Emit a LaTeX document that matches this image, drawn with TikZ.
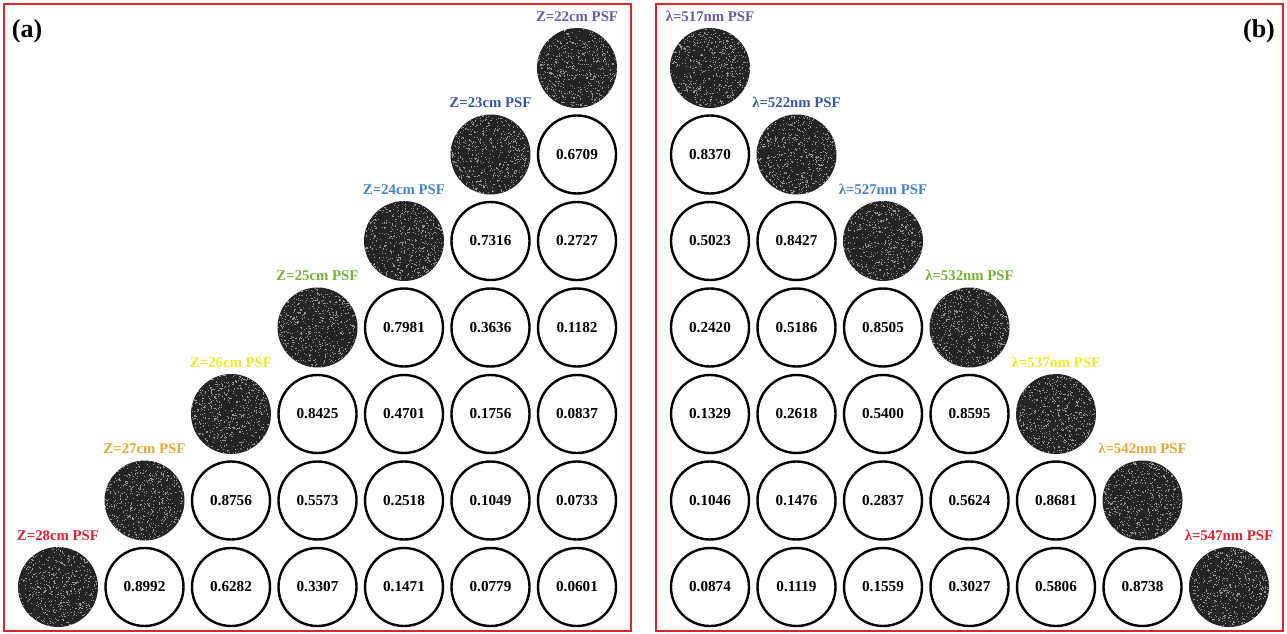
\documentclass[tikz,border=0pt]{standalone}
\usepackage{fontspec}
\setmainfont{Liberation Serif}
\usetikzlibrary{calc,positioning}

\definecolor{framered}{RGB}{228,32,44}
\definecolor{cpurple}{RGB}{108,88,168}
\definecolor{cdarkblue}{RGB}{48,88,168}
\definecolor{clightblue}{RGB}{64,132,204}
\definecolor{cgreen}{RGB}{112,180,52}
\definecolor{cyellow}{RGB}{240,232,40}
\definecolor{corange}{RGB}{240,164,48}
\definecolor{cred}{RGB}{228,30,42}

\begin{document}
\begin{tikzpicture}[x=1pt,y=-1pt]
\tikzset{
  psfnode/.style={circle,minimum size=80pt,inner sep=0pt,fill=black!86,
    path picture={\foreach \k in {1,...,650}
      \fill[black!42] ($(path picture bounding box.center)+(rand*40pt,rand*40pt)$) rectangle ++(1.1pt,1.1pt);}},
  valnode/.style={circle,draw=black,line width=2.4pt,minimum size=78pt,inner sep=0pt,
    font=\fontsize{15.2}{18}\selectfont\bfseries},
  psflabel/.style={inner sep=0pt,font=\fontsize{14.8}{17}\selectfont\bfseries},
  panellabel/.style={inner sep=0pt,font=\fontsize{26}{30}\selectfont\bfseries},
  panelframe/.style={draw=framered,line width=2.4pt}
}
\pgfmathsetseed{2718}
\useasboundingbox (0,0) rectangle (1287,634);
\draw[panelframe] (4,4) rectangle (631,631);
\draw[panelframe] (656,4) rectangle (1283,631);
\node[panellabel] (lab_a) at (27,31) {(a)};
\node[panellabel] (lab_b) at (1259,31) {(b)};
% (a) distance
\node[psfnode] (a_psf22) at (577,68) {};
\node[psfnode] (a_psf23) at (490.5,154.5) {};
\node[psfnode] (a_psf24) at (404,241) {};
\node[psfnode] (a_psf25) at (317.5,327.5) {};
\node[psfnode] (a_psf26) at (231,414) {};
\node[psfnode] (a_psf27) at (144.5,500.5) {};
\node[psfnode] (a_psf28) at (58,587) {};
\node[psflabel,text=cpurple,above=6pt of a_psf22] {Z=22cm PSF};
\node[psflabel,text=cdarkblue,above=6pt of a_psf23] {Z=23cm PSF};
\node[psflabel,text=clightblue,above=6pt of a_psf24] {Z=24cm PSF};
\node[psflabel,text=cgreen,above=6pt of a_psf25] {Z=25cm PSF};
\node[psflabel,text=cyellow,above=6pt of a_psf26] {Z=26cm PSF};
\node[psflabel,text=corange,above=6pt of a_psf27] {Z=27cm PSF};
\node[psflabel,text=cred,above=6pt of a_psf28] {Z=28cm PSF};
\node[valnode] (a_v16) at (577,154.5) {0.6709};
\node[valnode] (a_v25) at (490.5,241) {0.7316};
\node[valnode] (a_v26) at (577,241) {0.2727};
\node[valnode] (a_v34) at (404,327.5) {0.7981};
\node[valnode] (a_v35) at (490.5,327.5) {0.3636};
\node[valnode] (a_v36) at (577,327.5) {0.1182};
\node[valnode] (a_v43) at (317.5,414) {0.8425};
\node[valnode] (a_v44) at (404,414) {0.4701};
\node[valnode] (a_v45) at (490.5,414) {0.1756};
\node[valnode] (a_v46) at (577,414) {0.0837};
\node[valnode] (a_v52) at (231,500.5) {0.8756};
\node[valnode] (a_v53) at (317.5,500.5) {0.5573};
\node[valnode] (a_v54) at (404,500.5) {0.2518};
\node[valnode] (a_v55) at (490.5,500.5) {0.1049};
\node[valnode] (a_v56) at (577,500.5) {0.0733};
\node[valnode] (a_v61) at (144.5,587) {0.8992};
\node[valnode] (a_v62) at (231,587) {0.6282};
\node[valnode] (a_v63) at (317.5,587) {0.3307};
\node[valnode] (a_v64) at (404,587) {0.1471};
\node[valnode] (a_v65) at (490.5,587) {0.0779};
\node[valnode] (a_v66) at (577,587) {0.0601};
% (b) wavelength
\node[psfnode] (b_psf517) at (710,68) {};
\node[psfnode] (b_psf522) at (796.5,154.5) {};
\node[psfnode] (b_psf527) at (883,241) {};
\node[psfnode] (b_psf532) at (969.5,327.5) {};
\node[psfnode] (b_psf537) at (1056,414) {};
\node[psfnode] (b_psf542) at (1142.5,500.5) {};
\node[psfnode] (b_psf547) at (1229,587) {};
\node[psflabel,text=cpurple,above=6pt of b_psf517] {λ=517nm PSF};
\node[psflabel,text=cdarkblue,above=6pt of b_psf522] {λ=522nm PSF};
\node[psflabel,text=clightblue,above=6pt of b_psf527] {λ=527nm PSF};
\node[psflabel,text=cgreen,above=6pt of b_psf532] {λ=532nm PSF};
\node[psflabel,text=cyellow,above=6pt of b_psf537] {λ=537nm PSF};
\node[psflabel,text=corange,above=6pt of b_psf542] {λ=542nm PSF};
\node[psflabel,text=cred,above=6pt of b_psf547] {λ=547nm PSF};
\node[valnode] (b_v10) at (710,154.5) {0.8370};
\node[valnode] (b_v20) at (710,241) {0.5023};
\node[valnode] (b_v21) at (796.5,241) {0.8427};
\node[valnode] (b_v30) at (710,327.5) {0.2420};
\node[valnode] (b_v31) at (796.5,327.5) {0.5186};
\node[valnode] (b_v32) at (883,327.5) {0.8505};
\node[valnode] (b_v40) at (710,414) {0.1329};
\node[valnode] (b_v41) at (796.5,414) {0.2618};
\node[valnode] (b_v42) at (883,414) {0.5400};
\node[valnode] (b_v43) at (969.5,414) {0.8595};
\node[valnode] (b_v50) at (710,500.5) {0.1046};
\node[valnode] (b_v51) at (796.5,500.5) {0.1476};
\node[valnode] (b_v52) at (883,500.5) {0.2837};
\node[valnode] (b_v53) at (969.5,500.5) {0.5624};
\node[valnode] (b_v54) at (1056,500.5) {0.8681};
\node[valnode] (b_v60) at (710,587) {0.0874};
\node[valnode] (b_v61) at (796.5,587) {0.1119};
\node[valnode] (b_v62) at (883,587) {0.1559};
\node[valnode] (b_v63) at (969.5,587) {0.3027};
\node[valnode] (b_v64) at (1056,587) {0.5806};
\node[valnode] (b_v65) at (1142.5,587) {0.8738};
\end{tikzpicture}
\end{document}
